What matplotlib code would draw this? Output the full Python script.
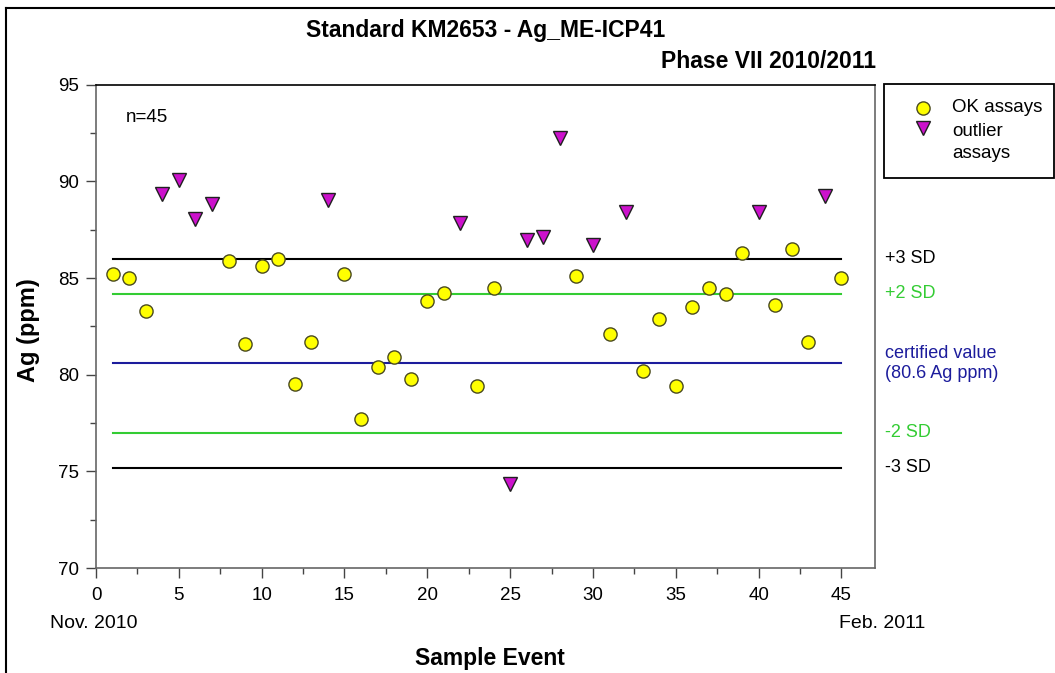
import numpy as np
import matplotlib
matplotlib.use("Agg")
from matplotlib import pyplot as plt
from matplotlib.lines import Line2D
from matplotlib.patches import Rectangle
from matplotlib.ticker import MultipleLocator

plt.rcParams['font.family'] = ['Liberation Sans', 'DejaVu Sans']

# sample events and Ag assays (ppm)
ok_events = [1, 2, 3, 8, 9, 10, 11, 12, 13, 15, 16, 17, 18, 19, 20, 21, 23, 24,
             29, 31, 33, 34, 35, 36, 37, 38, 39, 41, 42, 43, 45]
ok_values = [85.2, 85.0, 83.3, 85.9, 81.6, 85.6, 86.0, 79.5, 81.7, 85.2, 77.7,
             80.4, 80.9, 79.8, 83.8, 84.25, 79.4, 84.5, 85.1, 82.1, 80.2, 82.9,
             79.4, 83.5, 84.5, 84.2, 86.3, 83.6, 86.5, 81.7, 85.0]
outlier_events = [4, 5, 6, 7, 14, 22, 25, 26, 27, 28, 30, 32, 40, 44]
outlier_values = [89.35, 90.05, 88.05, 88.85, 89.05, 87.85, 74.35, 86.95,
                  87.15, 92.25, 86.7, 88.4, 88.4, 89.25]

certified = 80.6
sd = 1.8
x_ticks = [0, 5, 10, 15, 20, 25, 30, 35, 40, 45]
y_ticks = [70, 75, 80, 85, 90, 95]

W, H = 1055, 673
def fx(px):
    return px / W
def fy(py):
    return 1 - py / H

ok_style = dict(marker='o', ms=9.5, mfc='#ffff00', mec='#4a4a20', mew=1.0, ls='none')
out_style = dict(marker='v', ms=10, mfc='#cc11cc', mec='#202020', mew=1.0, ls='none')

fig = plt.figure(figsize=(10.55, 6.73), dpi=100)
ax = fig.add_axes([0.091, 0.156, 0.738, 0.718])

# control limits
first, last = 1, 45
limits = [
    (certified + 3 * sd, 'black', '+3 SD'),
    (certified + 2 * sd, '#33cc33', '+2 SD'),
    (certified, '#1c1c9c', 'certified value\n(80.6 Ag ppm)'),
    (certified - 2 * sd, '#33cc33', '-2 SD'),
    (certified - 3 * sd, 'black', '-3 SD'),
]
for val, col, lab in limits:
    ax.plot([first, last], [val, val], color=col, lw=1.5, zorder=2)
    ax.text(1.013, val, lab, color=col, fontsize=13, va='center', ha='left',
            transform=ax.get_yaxis_transform(), linespacing=1.25)

ax.plot(ok_events, ok_values, zorder=3, **ok_style)
ax.plot(outlier_events, outlier_values, zorder=3, **out_style)

ax.set_xlim(0, 47)
ax.set_ylim(70, 95)
ax.set_xticks(x_ticks)
ax.set_yticks(y_ticks)
ax.xaxis.set_minor_locator(MultipleLocator(2.5))
ax.yaxis.set_minor_locator(MultipleLocator(2.5))
ax.tick_params(which='major', direction='out', length=7, width=1, color='#444444',
               labelsize=13.5)
ax.tick_params(which='minor', direction='out', length=4.5, width=1, color='#444444')
ax.tick_params(axis='x', which='major', pad=7)
ax.tick_params(axis='y', which='major', pad=5)
for s in ax.spines.values():
    s.set_color('#666666')
    s.set_linewidth(1.2)
ax.spines['top'].set_color('black')

fig.text(fx(29), fy(330), 'Ag (ppm)', fontsize=17, fontweight='bold',
         rotation=90, ha='center', va='center')
fig.text(fx(490), fy(658), 'Sample Event', fontsize=16.5, fontweight='bold',
         ha='center', va='center')
fig.text(fx(126), fy(118), 'n=45', fontsize=13.5, va='center')

fig.text(fx(50), fy(624), 'Nov. 2010', fontsize=14, va='center')
fig.text(fx(925), fy(624), 'Feb. 2011', fontsize=14, va='center', ha='right')

fig.text(fx(486), fy(31), 'Standard KM2653 - Ag_ME-ICP41',
         fontsize=16.5, fontweight='bold', ha='center', va='center')
fig.text(fx(876), fy(61), 'Phase VII 2010/2011',
         fontsize=16.5, fontweight='bold', ha='right', va='center')

# legend box
fig.add_artist(Rectangle((fx(884), fy(178)), fx(1054) - fx(884), fy(84) - fy(178),
                         transform=fig.transFigure, fill=False, ec='black', lw=1.3))
fig.add_artist(Line2D([fx(923)], [fy(108)], transform=fig.transFigure, **ok_style))
fig.add_artist(Line2D([fx(923)], [fy(128)], transform=fig.transFigure, **out_style))
fig.text(fx(952), fy(108), 'OK assays', fontsize=13.5, va='center')
fig.text(fx(952), fy(132), 'outlier', fontsize=13.5, va='center')
fig.text(fx(952), fy(154), 'assays', fontsize=13.5, va='center')

# outer border of the chart area
fig.add_artist(Line2D([fx(6), 1], [fy(8), fy(8)], color='black', lw=1.5,
                      transform=fig.transFigure))
fig.add_artist(Line2D([fx(6), fx(6)], [0, fy(8)], color='black', lw=1.5,
                      transform=fig.transFigure))

fig.savefig('out.png', dpi=100)
